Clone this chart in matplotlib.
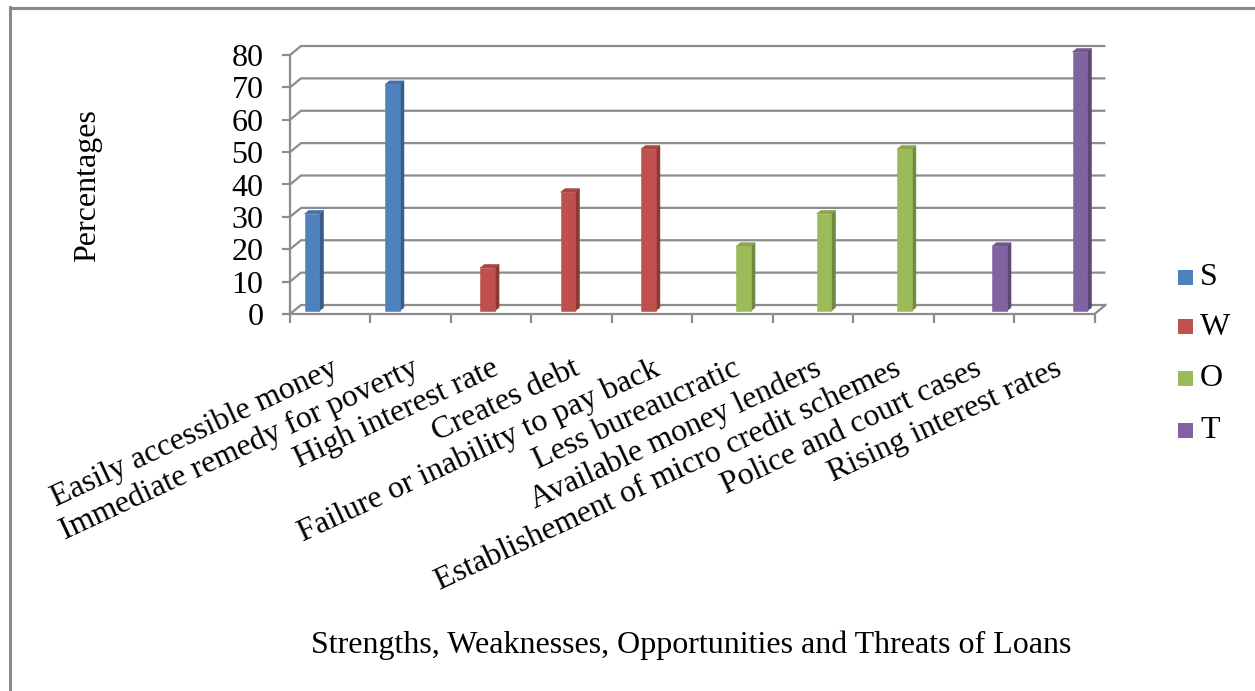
import matplotlib
matplotlib.use("Agg")
import matplotlib.pyplot as plt
from matplotlib.patches import Polygon, Rectangle
from matplotlib.lines import Line2D

# ---- data ----
categories = [
    "Easily accessible money",
    "Immediate remedy for poverty",
    "High interest rate",
    "Creates debt",
    "Failure or inability to pay back",
    "Less bureaucratic",
    "Available money lenders",
    "Establishement of micro credit schemes",
    "Police and court cases",
    "Rising interest rates",
]
series_names = ["S", "W", "O", "T"]
series_of_category = [0, 0, 1, 1, 1, 2, 2, 2, 3, 3]
values = [30, 70, 13.3, 36.7, 50, 20, 30, 50, 20, 80]
y_ticks = [0, 10, 20, 30, 40, 50, 60, 70, 80]

# ---- styling ----
front_colors = ["#4F81BD", "#C0504D", "#9BBB59", "#8064A2"]
side_colors = ["#385D8A", "#8C3836", "#71893F", "#5C4776"]
top_colors = ["#4470A8", "#A94542", "#88A74D", "#70588F"]
grid_color = "#8C8C8C"
font = "Liberation Serif"
fs = 23

W, H = 1255, 691
fig = plt.figure(figsize=(W / 100, H / 100), dpi=100)

# plot area (front plane of the 3-D box)
x0p, x1p = 290, 1094.5
y0p, y1p = 314, 55
ax = fig.add_axes([x0p / W, 1 - y0p / H, (x1p - x0p) / W, (y0p - y1p) / H])
n_cat = len(categories)
ax.set_xlim(0, n_cat)
ax.set_ylim(0, 80)
sx = (x1p - x0p) / n_cat
sy = (y0p - y1p) / 80.0

# depth vector of the floor, in data units
ddx = 11 / sx
ddy = 9 / sy

# back-wall gridlines with their left-side diagonals
for v in y_ticks:
    ax.plot([0, ddx, n_cat + ddx], [v, v + ddy, v + ddy], color=grid_color,
            lw=1.6, clip_on=False, zorder=1, solid_capstyle="butt")
# right edge of the floor
ax.plot([n_cat, n_cat + ddx], [0, ddy], color=grid_color, lw=1.6,
        clip_on=False, zorder=1)

# 3-D columns: 4 series slots per category, gap width 150%
bw = 1 / 5.5
f_front, f_back = 0.33, 0.72
for i, (v, s) in enumerate(zip(values, series_of_category)):
    left = i + 0.75 * bw + s * bw
    ox1, oy1 = ddx * f_front, ddy * f_front
    ox2, oy2 = ddx * f_back, ddy * f_back
    front = [(left + ox1, oy1), (left + bw + ox1, oy1),
             (left + bw + ox1, v + oy1), (left + ox1, v + oy1)]
    side = [(left + bw + ox1, oy1), (left + bw + ox2, oy2),
            (left + bw + ox2, v + oy2), (left + bw + ox1, v + oy1)]
    top = [(left + ox1, v + oy1), (left + bw + ox1, v + oy1),
           (left + bw + ox2, v + oy2), (left + ox2, v + oy2)]
    for pts, col in ((side, side_colors[s]), (top, top_colors[s]),
                     (front, front_colors[s])):
        ax.add_patch(Polygon(pts, closed=True, facecolor=col, edgecolor=col,
                             lw=0.4, clip_on=False, zorder=3))

# axes lines and ticks
for side_name in ("top", "right"):
    ax.spines[side_name].set_visible(False)
for side_name in ("left", "bottom"):
    ax.spines[side_name].set_color(grid_color)
    ax.spines[side_name].set_linewidth(1.6)
    ax.spines[side_name].set_zorder(4)
ax.set_facecolor("none")
ax.set_yticks(y_ticks)
ax.set_yticklabels([str(t) for t in y_ticks], fontfamily=font, fontsize=fs)
ax.tick_params(axis="y", length=6, width=1.6, color=grid_color, pad=13)
ax.set_xticks(range(n_cat + 1))
ax.set_xticklabels([])
ax.tick_params(axis="x", length=6.5, width=1.6, color=grid_color)

# rotated category labels
for i, lab in enumerate(categories):
    ax.text(i + 0.5 + 0 / sx, -(354 - y0p) / sy, lab, rotation=25,
            ha="right", va="top", rotation_mode="anchor",
            fontfamily=font, fontsize=fs, clip_on=False)

# axis titles
fig.text(88 / W, 1 - 186 / H, "Percentages", rotation=90, ha="center",
         va="center", fontfamily=font, fontsize=fs)
fig.text(691 / W, 1 - 645 / H,
         "Strengths, Weaknesses, Opportunities and Threats of Loans",
         ha="center", va="center", fontfamily=font, fontsize=fs)

# legend
leg_y = [277, 327, 378, 430]
for name, col, yc in zip(series_names, front_colors, leg_y):
    fig.add_artist(Rectangle((1178 / W, 1 - (yc + 7.5) / H), 15 / W, 15 / H,
                             transform=fig.transFigure, facecolor=col,
                             edgecolor="none"))
    fig.text(1200 / W, 1 - yc / H, name, ha="left", va="center",
             fontfamily=font, fontsize=fs)

# chart-area border
border = "#8A8A8A"
fig.add_artist(Line2D([10 / W, 10 / W], [0, 1 - 7 / H], color=border, lw=2.2,
                      transform=fig.transFigure))
fig.add_artist(Line2D([10 / W, 1], [1 - 8 / H, 1 - 8 / H], color=border,
                      lw=2.2, transform=fig.transFigure))

fig.savefig("out.png", dpi=100)
